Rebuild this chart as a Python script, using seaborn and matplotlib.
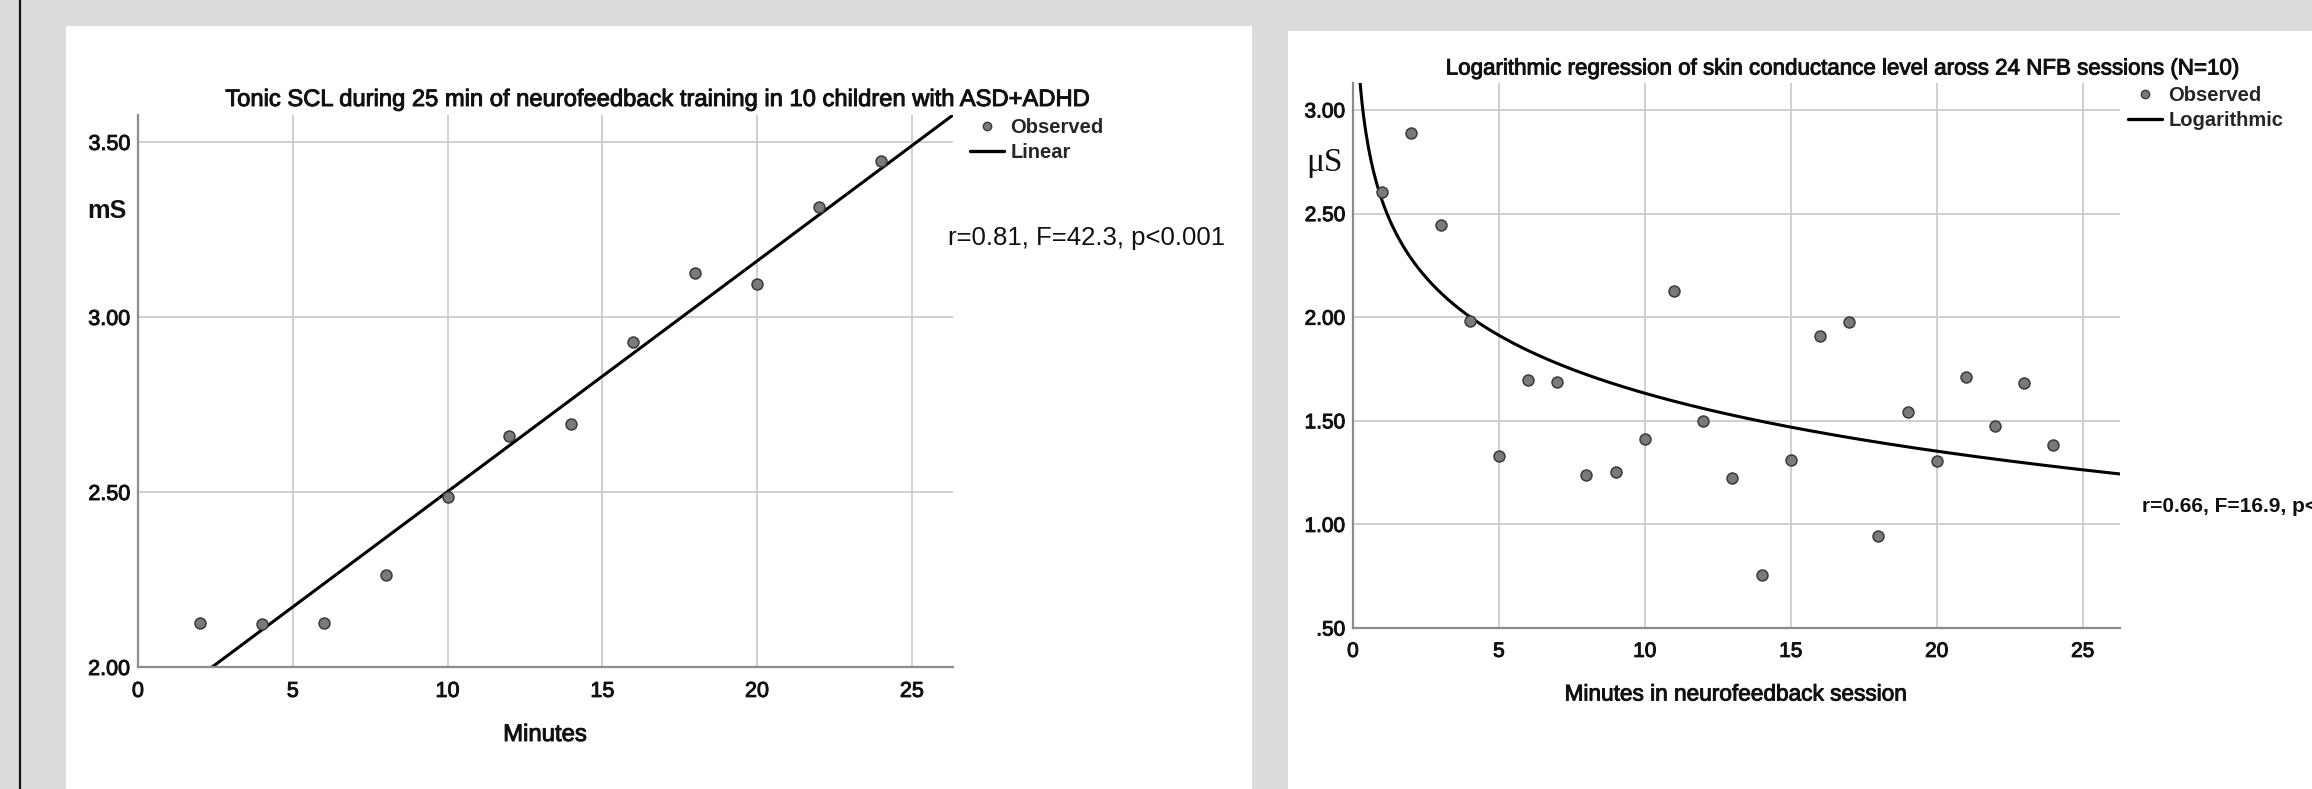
import numpy as np
import pandas as pd
import seaborn as sns
import matplotlib
matplotlib.use("Agg")
import matplotlib.pyplot as plt
import matplotlib.patheffects as pe
from matplotlib.lines import Line2D
from matplotlib.patches import Rectangle
from matplotlib import font_manager

sns.set_theme(style="white")
plt.rcParams["font.family"] = ["Liberation Sans", "DejaVu Sans"]

# ---------------- data ----------------
left_minutes = [2, 4, 6, 8, 10, 12, 14, 16, 18, 20, 22, 24]
left_scl = [2.127, 2.124, 2.125, 2.262, 2.485, 2.659, 2.695, 2.928, 3.125, 3.093, 3.314, 3.447]

right_minutes = list(range(1, 25))
right_scl = [2.602, 2.891, 2.444, 1.981, 1.332, 1.697, 1.687, 1.238, 1.255, 1.413,
             2.124, 1.497, 1.223, 0.757, 1.311, 1.908, 1.978, 0.942, 1.544, 1.306,
             1.711, 1.473, 1.684, 1.383]

x_ticks = [0, 5, 10, 15, 20, 25]
x_ticklabels = ["0", "5", "10", "15", "20", "25"]
left_yticks = [2.0, 2.5, 3.0, 3.5]
left_yticklabels = ["2.00", "2.50", "3.00", "3.50"]
right_yticks = [0.5, 1.0, 1.5, 2.0, 2.5, 3.0]
right_yticklabels = [".50", "1.00", "1.50", "2.00", "2.50", "3.00"]

left_title = "Tonic SCL during 25 min of neurofeedback training in 10 children with ASD+ADHD"
right_title = "Logarithmic regression of skin conductance level aross 24 NFB sessions (N=10)"
left_xlabel = "Minutes"
right_xlabel = "Minutes in neurofeedback session"
left_ylabel = "mS"
right_ylabel = "\u03bcS"
left_stats = "r=0.81, F=42.3, p<0.001"
right_stats = "r=0.66, F=16.9, p<0.001"
left_legend = ["Observed", "Linear"]
right_legend = ["Observed", "Logarithmic"]

# ---------------- layout helpers ----------------
W, H = 2312, 789
fig = plt.figure(figsize=(W / 100, H / 100), dpi=100)
fig.patch.set_facecolor("#dcdcdc")

def fx(x):
    return x / W

def fy(y):
    return 1 - y / H

TXT = "#111111"
HEAVY = [pe.withStroke(linewidth=0.7, foreground=TXT)]

# white panels and the dark edge line
fig.patches.append(Rectangle((fx(66), 0), fx(1252) - fx(66), fy(26), transform=fig.transFigure,
                             facecolor="white", edgecolor="none", zorder=-10))
fig.patches.append(Rectangle((fx(1288), 0), 1 - fx(1288), fy(31), transform=fig.transFigure,
                             facecolor="white", edgecolor="none", zorder=-10))
fig.lines.append(Line2D([fx(20), fx(20)], [0, 1], transform=fig.transFigure, color="#111111",
                        lw=1.6, zorder=-10))

names = {f.name for f in font_manager.fontManager.ttflist}
legend_family = "Liberation Sans Narrow" if "Liberation Sans Narrow" in names else "Liberation Sans"

GRID = "#cfcfcf"
SPINE = "#8c8c8c"
PT_FACE = "#7a7a7a"
PT_EDGE = "#3a3a3a"


def style_axes(ax, xlim, ylim, yticks, yticklabels, tick_fs):
    ax.set_xlim(*xlim)
    ax.set_ylim(*ylim)
    ax.set_xticks(x_ticks)
    ax.set_xticklabels(x_ticklabels)
    ax.set_yticks(yticks)
    ax.set_yticklabels(yticklabels)
    ax.grid(True, color=GRID, lw=1.4)
    ax.set_axisbelow(True)
    for s in ["top", "right"]:
        ax.spines[s].set_visible(False)
    for s in ["left", "bottom"]:
        ax.spines[s].set_color(SPINE)
        ax.spines[s].set_linewidth(1.6)
    ax.tick_params(axis="both", length=0, labelsize=tick_fs, colors=TXT)
    ax.tick_params(axis="x", pad=10)
    ax.tick_params(axis="y", pad=5.5)
    for t in ax.get_xticklabels() + ax.get_yticklabels():
        t.set_path_effects(HEAVY)
    ax.patch.set_alpha(0)


# ---------------- left chart ----------------
ax1 = fig.add_axes([fx(138), fy(667), (953 - 138) / W, (667 - 115) / H])
x1max = 26.33
style_axes(ax1, (0, x1max), (2.0, 3.577), left_yticks, left_yticklabels, 15.5)

slope1, icpt1 = np.polyfit(left_minutes, left_scl, 1)
grid1 = np.linspace(0, x1max, 200)
fit1 = pd.DataFrame({"x": grid1, "y": icpt1 + slope1 * grid1})
sns.lineplot(data=fit1, x="x", y="y", color="black", lw=2.2, ax=ax1, legend=False)
sns.scatterplot(x=left_minutes, y=left_scl, s=62, color=PT_FACE, edgecolor=PT_EDGE,
                linewidth=1.1, ax=ax1, zorder=3, legend=False)
ax1.set_xlabel("")
ax1.set_ylabel("")

h1 = [Line2D([], [], ls="none", marker="o", ms=6, mfc=PT_FACE, mec=PT_EDGE, mew=1.0),
      Line2D([], [], color="black", lw=2.4)]
ax1.legend(h1, left_legend, loc="upper left", bbox_to_anchor=(fx(970), fy(118)),
           bbox_transform=fig.transFigure, frameon=False, borderpad=0, borderaxespad=0,
           handlelength=1.7, handletextpad=0.3, labelspacing=0.3,
           prop={"family": legend_family, "weight": "bold", "size": 14.5})

fig.text(fx(658), fy(100), left_title, ha="center", va="center", fontsize=17.1, color=TXT,
         path_effects=HEAVY)
fig.text(fx(545), fy(735), left_xlabel, ha="center", va="center", fontsize=17.2, color=TXT,
         path_effects=HEAVY)
fig.text(fx(87), fy(211), left_ylabel, ha="left", va="center", fontsize=18.2, weight="bold", color=TXT)
fig.text(fx(948), fy(238), left_stats, ha="left", va="center", fontsize=18.5, color=TXT)

# ---------------- right chart ----------------
ax2 = fig.add_axes([fx(1353), fy(628), (2120 - 1353) / W, (628 - 83) / H])
x2max = 26.28
style_axes(ax2, (0, x2max), (0.5, 3.130), right_yticks, right_yticklabels, 15)

slope2, icpt2 = np.polyfit(np.log(right_minutes), right_scl, 1)
grid2 = np.linspace(0.05, x2max, 600)
fit2 = pd.DataFrame({"x": grid2, "y": icpt2 + slope2 * np.log(grid2)})
sns.lineplot(data=fit2, x="x", y="y", color="black", lw=2.2, ax=ax2, legend=False)
sns.scatterplot(x=right_minutes, y=right_scl, s=62, color=PT_FACE, edgecolor=PT_EDGE,
                linewidth=1.1, ax=ax2, zorder=3, legend=False)
ax2.set_xlabel("")
ax2.set_ylabel("")

h2 = [Line2D([], [], ls="none", marker="o", ms=6, mfc=PT_FACE, mec=PT_EDGE, mew=1.0),
      Line2D([], [], color="black", lw=2.4)]
ax2.legend(h2, right_legend, loc="upper left", bbox_to_anchor=(fx(2128), fy(86)),
           bbox_transform=fig.transFigure, frameon=False, borderpad=0, borderaxespad=0,
           handlelength=1.7, handletextpad=0.3, labelspacing=0.3,
           prop={"family": legend_family, "weight": "bold", "size": 14.5})

fig.text(fx(1844), fy(69), right_title, ha="center", va="center", fontsize=16.1, color=TXT,
         path_effects=HEAVY)
fig.text(fx(1736), fy(694), right_xlabel, ha="center", va="center", fontsize=16.3, color=TXT,
         path_effects=HEAVY)
fig.text(fx(1306), fy(163), right_ylabel, ha="left", va="center", fontsize=24,
         family=["Liberation Serif", "DejaVu Serif"], color=TXT)
fig.text(fx(2142), fy(506), right_stats, ha="left", va="center", fontsize=15, weight="bold", color=TXT)

fig.savefig("out.png", dpi=100, facecolor=fig.get_facecolor())
